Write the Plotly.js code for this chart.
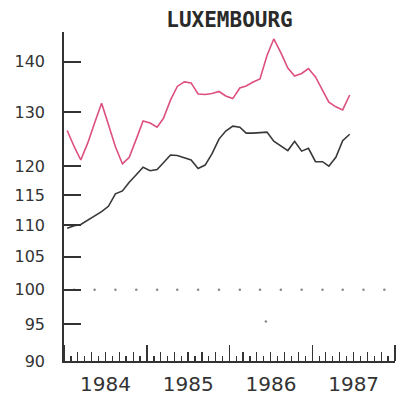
<!DOCTYPE html>
<html><head><meta charset="utf-8">
<script src="https://cdn.plot.ly/plotly-3.0.1.min.js"></script>
<style>html,body{margin:0;padding:0;background:#fff}#chart{width:403px;height:400px}</style>
</head><body><div id="chart"></div>
<script>
const months = [
 '1984-01-15','1984-02-15','1984-03-15','1984-04-15','1984-05-15','1984-06-15','1984-07-15','1984-08-15','1984-09-15','1984-10-15','1984-11-15','1984-12-15',
 '1985-01-15','1985-02-15','1985-03-15','1985-04-15','1985-05-15','1985-06-15','1985-07-15','1985-08-15','1985-09-15','1985-10-15','1985-11-15','1985-12-15',
 '1986-01-15','1986-02-15','1986-03-15','1986-04-15','1986-05-15','1986-06-15','1986-07-15','1986-08-15','1986-09-15','1986-10-15','1986-11-15','1986-12-15',
 '1987-01-15','1987-02-15','1987-03-15','1987-04-15','1987-05-15','1987-06-15'];
const pinkSeries = [126.5,123.5,121.1,124.2,127.9,131.7,127.6,123.5,120.4,121.6,124.9,128.3,
 127.9,127.1,128.8,132.3,135.0,135.9,135.7,133.5,133.4,133.6,134.0,133.1,
 132.6,134.7,135.1,135.9,136.5,141.3,144.8,141.9,138.7,137.1,137.6,138.6,
 136.9,134.3,131.9,131.0,130.4,133.3];
const blackSeries = [109.5,109.9,110.1,110.8,111.4,112.2,113.1,115.2,115.7,117.2,118.5,119.8,
 119.2,119.4,120.6,122.0,121.9,121.5,121.1,119.6,120.2,122.2,124.9,126.4,
 127.3,127.1,126.0,126.0,126.1,126.2,124.5,123.6,122.8,124.5,122.7,123.2,
 120.8,120.8,120.0,121.6,124.6,125.8];
const quarterMid = ['1984-02-15','1984-05-15','1984-08-15','1984-11-15','1985-02-15','1985-05-15','1985-08-15','1985-11-15',
 '1986-02-15','1986-05-15','1986-08-15','1986-11-15','1987-02-15','1987-05-15','1987-08-15','1987-11-15'];
const refValues = [100,100,100,100,100,100,100,100,100,100,100,100,100,100,100,100];
const strayX = ['1986-06-10'];
const strayY = [95.4];
const yTicks = [90,95,100,105,110,115,120,130,140];
const xRange = ['1984-01-01','1988-01-01'];
const yRange = [90,146.3];

const data = [
 {x: quarterMid, y: refValues, type:'scatter', mode:'markers', marker:{size:2.5,color:'#888'}, hoverinfo:'skip'},
 {x: strayX, y: strayY, type:'scatter', mode:'markers', marker:{size:2.5,color:'#888'}, hoverinfo:'skip'},
 {x: months, y: pinkSeries, type:'scatter', mode:'lines', line:{color:'#dc4f7e',width:1.6}},
 {x: months, y: blackSeries, type:'scatter', mode:'lines', line:{color:'#383838',width:1.6}},
 {x: xRange, y: [null,null], xaxis:'x2', type:'scatter', mode:'lines', showlegend:false, hoverinfo:'skip'}
];
const layout = {
 width:403, height:400,
 margin:{l:64,r:8,t:32,b:39},
 paper_bgcolor:'#fff', plot_bgcolor:'#fff',
 showlegend:false,
 font:{family:'DejaVu Sans', color:'#333'},
 title:{text:'<b>LUXEMBOURG</b>', font:{family:'DejaVu Sans Mono', size:21, color:'#2a2a2a'}, x:0.5, xref:'paper', y:0.95, yref:'container', yanchor:'middle'},
 xaxis:{type:'date', range:xRange, tick0:'1984-01-01', dtick:'M12', tickformat:'%Y', ticklabelmode:'period',
   ticks:'inside', ticklen:16, tickwidth:1.5, tickcolor:'#333', showline:true, linecolor:'#333', linewidth:1.8,
   showgrid:false, zeroline:false, tickfont:{size:20, color:'#333'}, ticklabelstandoff:4,
   minor:{dtick:'M1', tick0:'1984-01-01', ticks:'inside', ticklen:5, tickwidth:1.2, tickcolor:'#333', showgrid:false}},
 xaxis2:{type:'date', overlaying:'x', range:xRange, tick0:'1984-01-01', dtick:'M2', ticks:'inside', ticklen:9, tickwidth:1.2, tickcolor:'#333',
   showticklabels:false, showgrid:false, zeroline:false, showline:false, side:'bottom'},
 yaxis:{type:'log', range:[Math.log10(yRange[0]), Math.log10(yRange[1])], tickvals:yTicks, ticktext:yTicks.map(String),
   ticks:'inside', ticklen:17, tickwidth:1.8, tickcolor:'#333', showline:true, linecolor:'#333', linewidth:1.8,
   showgrid:false, zeroline:false, tickfont:{size:16, color:'#333'}, ticklabelstandoff:14}
};
Plotly.newPlot('chart', data, layout, {displayModeBar:false, staticPlot:true});
</script></body></html>
